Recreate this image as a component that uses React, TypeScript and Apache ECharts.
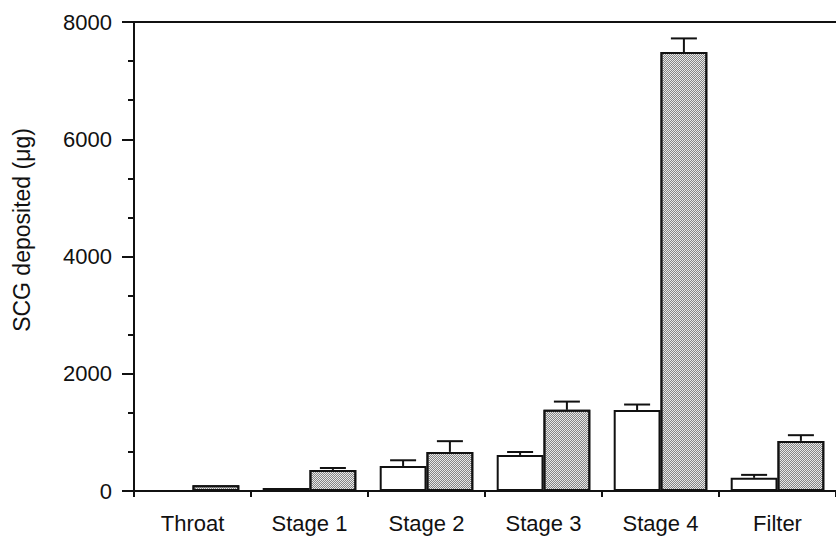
import React, { useEffect, useRef } from "react";
import * as echarts from "echarts";

const categories = ["Throat", "Stage 1", "Stage 2", "Stage 3", "Stage 4", "Filter"];
const whiteValues = [0, 50, 427, 615, 1380, 225];
const whiteErrors = [0, 0, 97, 50, 95, 50];
const greyValues = [100, 360, 667, 1385, 7487, 855];
const greyErrors = [0, 32, 183, 140, 233, 97];
const yTicks = { min: 0, max: 8000, interval: 2000 };
const yAxisTitle = "SCG deposited (μg)";

const FONT = "'Liberation Sans', Arial, Helvetica, sans-serif";

function errorSeries(values: number[], errors: number[], side: number) {
  return {
    type: "custom",
    z: 10,
    data: values.map((v, i) => [i, v, errors[i]]),
    renderItem: (params: any, api: any) => {
      const idx = api.value(0);
      const val = api.value(1);
      const err = api.value(2);
      if (!err) return null;
      const band = api.size([1, 0])[0];
      const top = api.coord([idx, val]);
      const cap = api.coord([idx, val + err]);
      const x = top[0] + side * 0.2 * band;
      const half = 13;
      const style = { stroke: "#111", lineWidth: 2 };
      return {
        type: "group",
        children: [
          { type: "line", shape: { x1: x, y1: top[1], x2: x, y2: cap[1] }, style },
          { type: "line", shape: { x1: x - half, y1: cap[1], x2: x + half, y2: cap[1] }, style },
        ],
      };
    },
  };
}

export default function App() {
  const ref = useRef<HTMLDivElement>(null);
  useEffect(() => {
    if (!ref.current) return;
    const chart = echarts.init(ref.current, undefined, { renderer: "svg" });
    chart.setOption({
      animation: false,
      backgroundColor: "#ffffff",
      grid: { left: 134, right: -5, top: 22, bottom: 46, containLabel: false },
      graphic: [
        {
          type: "text",
          x: 22,
          y: 230,
          rotation: Math.PI / 2,
          style: {
            text: yAxisTitle,
            fill: "#111",
            font: `23px ${FONT}`,
            textAlign: "center",
            textVerticalAlign: "middle",
          },
        },
      ],
      xAxis: [
        {
          type: "category",
          data: categories,
          position: "bottom",
          axisLine: { show: true, lineStyle: { color: "#111", width: 2 } },
          axisTick: { show: true, interval: 0, length: 6, lineStyle: { color: "#111", width: 2 } },
          axisLabel: { color: "#111", fontSize: 22, fontFamily: FONT, margin: 21, interval: 0 },
          splitLine: { show: false },
        },
        {
          type: "category",
          data: categories,
          position: "top",
          axisLine: { show: true, lineStyle: { color: "#111", width: 2 } },
          axisTick: { show: false },
          axisLabel: { show: false },
          splitLine: { show: false },
        },
      ],
      yAxis: {
        type: "value",
        min: yTicks.min,
        max: yTicks.max,
        interval: yTicks.interval,
        axisLine: { show: true, lineStyle: { color: "#111", width: 2 } },
        axisTick: { show: true, length: 12, lineStyle: { color: "#111", width: 2 } },
        minorTick: { show: true, splitNumber: 3, length: 6, lineStyle: { color: "#111", width: 2 } },
        axisLabel: {
          color: "#111",
          fontSize: 22,
          fontFamily: FONT,
          margin: 22,
          formatter: (v: number) => String(v),
        },
        splitLine: { show: false },
      },
      series: [
        {
          type: "bar",
          data: whiteValues,
          barGap: "0%",
          barCategoryGap: "20%",
          itemStyle: { color: "#ffffff", borderColor: "#111", borderWidth: 2 },
        },
        {
          type: "bar",
          data: greyValues,
          barGap: "0%",
          barCategoryGap: "20%",
          itemStyle: {
            color: "#e8e8e8",
            borderColor: "#111",
            borderWidth: 2,
            decal: {
              symbol: "rect",
              symbolSize: 1,
              color: "#858585",
              dashArrayX: [[1, 1], [0, 1, 1, 0]],
              dashArrayY: [1, 0],
              rotation: 0,
            },
          },
        },
        errorSeries(whiteValues, whiteErrors, -1),
        errorSeries(greyValues, greyErrors, 1),
      ],
    });
    return () => chart.dispose();
  }, []);
  return (
    <div
      ref={ref}
      style={{ position: "fixed", left: 0, top: 0, width: 836, height: 537, background: "#fff" }}
    />
  );
}
